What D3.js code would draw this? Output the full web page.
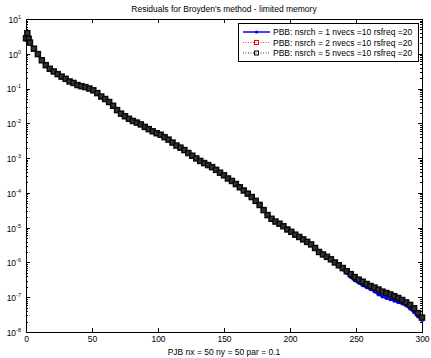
<!DOCTYPE html>
<html lang="en">
<head>
    <meta charset="UTF-8">
    <title>Residuals for Broyden's method - limited memory</title>
    <style>
        body { margin: 0; background: #fff; }
        svg { display: block; }
        text { font-family: "Liberation Sans", Arial, sans-serif; fill: #000; }
        .axis path, .axis line { fill: none; stroke: #000; shape-rendering: crispEdges; }
        .axis text { font-size: 8.5px; }
    </style>
</head>
<body>
    <svg id="chart" width="431" height="358"></svg>

    <script src="https://cdn.jsdelivr.net/npm/d3@7"></script>
    <script>
        const iterations = [0, 1, 2, 3, 6, 9, 12, 15, 18, 21, 24, 27, 30, 33, 36, 39, 42, 45, 48, 51,
            54, 57, 60, 63, 66, 69, 72, 75, 78, 81, 84, 87, 90, 93, 96, 99, 102, 105, 108, 111,
            114, 117, 120, 123, 126, 129, 132, 135, 138, 141, 144, 147, 150, 153, 156, 159, 162, 165, 168, 171,
            174, 177, 180, 183, 186, 189, 192, 195, 198, 201, 204, 207, 210, 213, 216, 219, 222, 225, 228, 231,
            234, 237, 240, 243, 246, 249, 252, 255, 258, 261, 264, 267, 270, 273, 276, 279, 282, 285, 288, 291,
            294, 297, 300];

        // nsrch = 1 (blue)
        const resNsrch1 = [2.6e0, 4.4e0, 2.4e0, 2.0e0, 1.4e0, 9.6e-1, 6.4e-1, 4.6e-1, 3.6e-1, 3.0e-1,
            2.6e-1, 2.2e-1, 1.9e-1, 1.6e-1, 1.45e-1, 1.26e-1, 1.17e-1, 1.1e-1, 1.0e-1, 8.9e-2,
            7.4e-2, 5.9e-2, 5.0e-2, 4.1e-2, 3.2e-2, 2.4e-2, 1.9e-2, 1.6e-2, 1.35e-2, 1.17e-2,
            1.05e-2, 9.3e-3, 7.9e-3, 6.8e-3, 5.9e-3, 5.2e-3, 4.7e-3, 4.0e-3, 3.4e-3, 2.8e-3,
            2.3e-3, 2.0e-3, 1.7e-3, 1.4e-3, 1.17e-3, 9.8e-4, 8.3e-4, 7.2e-4, 6.3e-4, 5.5e-4,
            4.6e-4, 3.8e-4, 3.2e-4, 2.6e-4, 2.2e-4, 1.8e-4, 1.45e-4, 1.17e-4, 9.5e-5, 7.6e-5,
            5.9e-5, 4.5e-5, 3.2e-5, 2.3e-5, 1.8e-5, 1.5e-5, 1.3e-5, 1.1e-5, 8.9e-6, 7.6e-6,
            6.3e-6, 5.4e-6, 4.6e-6, 3.9e-6, 3.3e-6, 2.6e-6, 2.0e-6, 1.7e-6, 1.4e-6, 1.17e-6,
            9.5e-7, 7.8e-7, 6.3e-7, 5.0e-7, 3.8e-7, 3.1e-7, 2.6e-7, 2.2e-7, 1.95e-7, 1.7e-7,
            1.45e-7, 1.2e-7, 1.05e-7, 9.5e-8, 8.7e-8, 7.9e-8, 7.2e-8, 6.6e-8, 5.8e-8, 4.7e-8,
            3.7e-8, 2.8e-8, 2.2e-8];

        // nsrch = 2 (red)
        const resNsrch2 = [2.8e0, 3.9e0, 2.7e0, 2.1e0, 1.4e0, 9.8e-1, 6.5e-1, 4.7e-1, 3.7e-1, 3.1e-1,
            2.6e-1, 2.2e-1, 1.9e-1, 1.6e-1, 1.45e-1, 1.26e-1, 1.17e-1, 1.1e-1, 1.0e-1, 8.9e-2,
            7.4e-2, 5.9e-2, 5.0e-2, 4.1e-2, 3.2e-2, 2.4e-2, 1.9e-2, 1.6e-2, 1.35e-2, 1.17e-2,
            1.05e-2, 9.3e-3, 7.9e-3, 6.8e-3, 5.9e-3, 5.2e-3, 4.7e-3, 4.0e-3, 3.4e-3, 2.8e-3,
            2.3e-3, 2.0e-3, 1.7e-3, 1.4e-3, 1.17e-3, 9.8e-4, 8.3e-4, 7.2e-4, 6.3e-4, 5.5e-4,
            4.6e-4, 3.8e-4, 3.2e-4, 2.6e-4, 2.2e-4, 1.8e-4, 1.45e-4, 1.17e-4, 9.5e-5, 7.6e-5,
            5.9e-5, 4.5e-5, 3.2e-5, 2.3e-5, 1.8e-5, 1.5e-5, 1.3e-5, 1.1e-5, 8.9e-6, 7.6e-6,
            6.3e-6, 5.4e-6, 4.6e-6, 3.9e-6, 3.3e-6, 2.6e-6, 2.0e-6, 1.7e-6, 1.45e-6, 1.23e-6,
            1.0e-6, 8.3e-7, 6.9e-7, 5.6e-7, 4.6e-7, 3.8e-7, 3.2e-7, 2.8e-7, 2.4e-7, 2.1e-7,
            1.9e-7, 1.66e-7, 1.45e-7, 1.32e-7, 1.2e-7, 1.07e-7, 9.5e-8, 8.3e-8, 7.1e-8, 6.0e-8,
            4.8e-8, 3.5e-8, 2.6e-8];

        // nsrch = 5 (black)
        const resNsrch5 = [2.8e0, 3.9e0, 2.7e0, 2.1e0, 1.4e0, 9.8e-1, 6.5e-1, 4.7e-1, 3.7e-1, 3.1e-1,
            2.6e-1, 2.2e-1, 1.9e-1, 1.6e-1, 1.45e-1, 1.26e-1, 1.17e-1, 1.1e-1, 1.0e-1, 8.9e-2,
            7.4e-2, 5.9e-2, 5.0e-2, 4.1e-2, 3.2e-2, 2.4e-2, 1.9e-2, 1.6e-2, 1.35e-2, 1.17e-2,
            1.05e-2, 9.3e-3, 7.9e-3, 6.8e-3, 5.9e-3, 5.2e-3, 4.7e-3, 4.0e-3, 3.4e-3, 2.8e-3,
            2.3e-3, 2.0e-3, 1.7e-3, 1.4e-3, 1.17e-3, 9.8e-4, 8.3e-4, 7.2e-4, 6.3e-4, 5.5e-4,
            4.6e-4, 3.8e-4, 3.2e-4, 2.6e-4, 2.2e-4, 1.8e-4, 1.45e-4, 1.17e-4, 9.5e-5, 7.6e-5,
            5.9e-5, 4.5e-5, 3.2e-5, 2.3e-5, 1.8e-5, 1.5e-5, 1.3e-5, 1.1e-5, 8.9e-6, 7.6e-6,
            6.3e-6, 5.4e-6, 4.6e-6, 3.9e-6, 3.3e-6, 2.6e-6, 2.0e-6, 1.7e-6, 1.45e-6, 1.23e-6,
            1.0e-6, 8.3e-7, 6.9e-7, 5.6e-7, 4.6e-7, 3.8e-7, 3.2e-7, 2.8e-7, 2.4e-7, 2.1e-7,
            1.9e-7, 1.66e-7, 1.45e-7, 1.32e-7, 1.2e-7, 1.07e-7, 9.5e-8, 8.3e-8, 7.1e-8, 6.0e-8,
            4.8e-8, 3.5e-8, 2.6e-8];

        const seriesNames = [
            'PBB: nsrch = 1 nvecs =10 rsfreq =20',
            'PBB: nsrch = 2 nvecs =10 rsfreq =20',
            'PBB: nsrch = 5 nvecs =10 rsfreq =20'
        ];
        const xTicks = [0, 50, 100, 150, 200, 250, 300];
        const yDecades = [1e-8, 1e-7, 1e-6, 1e-5, 1e-4, 1e-3, 1e-2, 1e-1, 1e0, 1e1];

        const titleText = "Residuals for Broyden's method - limited memory";
        const xLabelText = 'PJB  nx = 50  ny = 50 par = 0.1';

        const plotLeft = 26, plotRight = 422, plotTop = 19, plotBottom = 332;

        const svg = d3.select('#chart');

        const x_scale = d3.scaleLinear([0, 300], [plotLeft, plotRight]);
        const y_scale = d3.scaleLog([1e-8, 1e1], [plotBottom, plotTop]);

        // minor log ticks between decades
        const yMinor = [];
        yDecades.slice(0, -1).forEach(d => {
            for (let k = 2; k <= 9; k++) yMinor.push(d * k);
        });

        // major + minor ticks, pointing inward on all four sides
        svg.append('g').attr('class', 'axis')
            .attr('transform', `translate(0, ${plotBottom})`)
            .call(d3.axisBottom(x_scale).tickValues(xTicks).tickSizeInner(-4).tickSizeOuter(0).tickPadding(4));

        svg.append('g').attr('class', 'axis')
            .attr('transform', `translate(0, ${plotTop})`)
            .call(d3.axisTop(x_scale).tickValues(xTicks).tickSizeInner(-4).tickSizeOuter(0).tickFormat(''));

        const y_left = svg.append('g').attr('class', 'axis')
            .attr('transform', `translate(${plotLeft}, 0)`)
            .call(d3.axisLeft(y_scale).tickValues(yDecades).tickSizeInner(-4).tickSizeOuter(0).tickPadding(5).tickFormat(() => '10'));

        y_left.selectAll('.tick text')
            .attr('dy', '0.4em')
            .append('tspan')
            .attr('dy', -4)
            .attr('font-size', '5.5px')
            .text(d => Math.round(Math.log10(d)));

        svg.append('g').attr('class', 'axis')
            .attr('transform', `translate(${plotLeft}, 0)`)
            .call(d3.axisLeft(y_scale).tickValues(yMinor).tickSizeInner(-2).tickSizeOuter(0).tickFormat(''))
            .select('.domain').remove();

        svg.append('g').attr('class', 'axis')
            .attr('transform', `translate(${plotRight}, 0)`)
            .call(d3.axisRight(y_scale).tickValues(yDecades).tickSizeInner(-4).tickSizeOuter(0).tickFormat(''));

        svg.append('g').attr('class', 'axis')
            .attr('transform', `translate(${plotRight}, 0)`)
            .call(d3.axisRight(y_scale).tickValues(yMinor).tickSizeInner(-2).tickSizeOuter(0).tickFormat(''))
            .select('.domain').remove();

        const line = d3.line()
            .x((d, i) => x_scale(iterations[i]))
            .y(d => y_scale(d));

        const plot = svg.append('g');

        // nsrch = 1: solid blue with dot markers
        plot.append('path')
            .attr('d', line(resNsrch1))
            .attr('fill', 'none')
            .attr('stroke', '#0000ff')
            .attr('stroke-width', 2);
        plot.selectAll('circle.s1')
            .data(resNsrch1)
            .enter()
            .append('circle')
            .attr('class', 's1')
            .attr('cx', (d, i) => x_scale(iterations[i]))
            .attr('cy', d => y_scale(d))
            .attr('r', 2)
            .attr('fill', '#0000ff');

        // nsrch = 2: dotted red with square markers
        plot.append('path')
            .attr('d', line(resNsrch2))
            .attr('fill', 'none')
            .attr('stroke', '#ff0000')
            .attr('stroke-width', 0.8)
            .attr('stroke-dasharray', '1,1.5');
        plot.selectAll('rect.s2')
            .data(resNsrch2)
            .enter()
            .append('rect')
            .attr('class', 's2')
            .attr('x', (d, i) => x_scale(iterations[i]) - 1.8)
            .attr('y', d => y_scale(d) - 1.8)
            .attr('width', 3.6)
            .attr('height', 3.6)
            .attr('fill', 'none')
            .attr('stroke', '#ff0000')
            .attr('stroke-width', 1);

        // nsrch = 5: dotted black with square markers (dense, so the band reads as solid)
        plot.append('path')
            .attr('d', line(resNsrch5))
            .attr('fill', 'none')
            .attr('stroke', '#000')
            .attr('stroke-width', 0.8)
            .attr('stroke-dasharray', '1,1.5');
        plot.selectAll('rect.s5')
            .data(resNsrch5)
            .enter()
            .append('rect')
            .attr('class', 's5')
            .attr('x', (d, i) => x_scale(iterations[i]) - 2.5)
            .attr('y', d => y_scale(d) - 2.5)
            .attr('width', 5)
            .attr('height', 5)
            .attr('fill', '#333')
            .attr('stroke', '#0a0a0a')
            .attr('stroke-width', 1.5);

        // title and x label
        svg.append('text')
            .attr('x', (plotLeft + plotRight) / 2)
            .attr('y', 12)
            .attr('text-anchor', 'middle')
            .attr('font-size', '8.5px')
            .text(titleText);

        svg.append('text')
            .attr('x', (plotLeft + plotRight) / 2)
            .attr('y', 355)
            .attr('text-anchor', 'middle')
            .attr('font-size', '8.5px')
            .text(xLabelText);

        // legend
        const legend = svg.append('g');
        legend.append('rect')
            .attr('x', 238.5).attr('y', 23.5)
            .attr('width', 180).attr('height', 38)
            .attr('fill', '#fff')
            .attr('stroke', '#000')
            .attr('stroke-width', 1);

        const legendStyles = [
            { color: '#0000ff', dash: null, width: 1.5, marker: 'dot' },
            { color: '#ff0000', dash: '1,1.5', width: 0.8, marker: 'square' },
            { color: '#000', dash: '1,1.5', width: 0.8, marker: 'square' }
        ];
        seriesNames.forEach((name, i) => {
            const ly = 32 + i * 10.5;
            const st = legendStyles[i];
            legend.append('line')
                .attr('x1', 243).attr('x2', 270)
                .attr('y1', ly).attr('y2', ly)
                .attr('stroke', st.color)
                .attr('stroke-width', st.width)
                .attr('stroke-dasharray', st.dash);
            if (st.marker === 'dot') {
                legend.append('circle')
                    .attr('cx', 256.5).attr('cy', ly).attr('r', 1.6)
                    .attr('fill', st.color);
            } else {
                legend.append('rect')
                    .attr('x', 254.5).attr('y', ly - 2)
                    .attr('width', 4).attr('height', 4)
                    .attr('fill', 'none')
                    .attr('stroke', st.color)
                    .attr('stroke-width', 1);
            }
            legend.append('text')
                .attr('x', 273).attr('y', ly + 3)
                .attr('font-size', '8.5px')
                .text(name);
        });
    </script>
</body>
</html>
